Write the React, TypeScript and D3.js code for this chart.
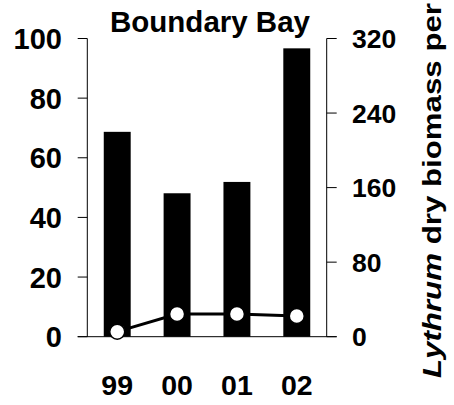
import React from "react";
import * as d3 from "d3";

const years = ["99", "00", "01", "02"];
const coverValues = [68.7, 48.1, 51.9, 96.7];
const biomassValues = [5.4, 24.4, 24.4, 22.2];
const leftTicks = [0, 20, 40, 60, 80, 100];
const rightTicks = [0, 80, 160, 240, 320];
const title = "Boundary Bay";

const W = 454;
const H = 405;
const FONT = "'Liberation Sans', Arial, Helvetica, sans-serif";

export default function App() {
  const left = 87.3;
  const right = 326.7;
  const top = 38.5;
  const bottom = 336.7;

  const x = d3.scaleBand<string>().domain(years).range([left, right]).paddingInner(0.55).paddingOuter(0.275);
  const yL = d3.scaleLinear().domain([0, 100]).range([bottom, top]);
  const yR = d3.scaleLinear().domain([0, 320]).range([bottom, top]);

  const line = d3
    .line<number>()
    .x((_, i) => (x(years[i]) as number) + x.bandwidth() / 2)
    .y((d) => yR(d));

  return (
    <svg
      width={W}
      height={H}
      style={{ position: "absolute", left: 0, top: 0, background: "#fff" }}
      fontFamily={FONT}
      fontWeight="bold"
    >
      <rect x={0} y={0} width={W} height={H} fill="#fff" />
      <text x={210} y={31.5} textAnchor="middle" fontSize={29.5} fill="#000">
        {title}
      </text>

      {coverValues.map((v, i) => (
        <rect
          key={"b" + i}
          x={x(years[i]) as number}
          y={yL(v)}
          width={x.bandwidth()}
          height={yL(0) - yL(v)}
          fill="#000"
        />
      ))}

      <line x1={left} x2={left} y1={top} y2={bottom} stroke="#000" strokeWidth={1} />
      <line x1={right} x2={right} y1={top} y2={bottom} stroke="#000" strokeWidth={1} />
      <line x1={left - 9.6} x2={right + 10} y1={bottom} y2={bottom} stroke="#000" strokeWidth={1} />

      {leftTicks.map((t) => (
        <g key={"lt" + t}>
          <line x1={left - 9.6} x2={left} y1={yL(t)} y2={yL(t)} stroke="#000" strokeWidth={1} />
          <text x={62} y={yL(t)} dy="0.36em" textAnchor="end" fontSize={29} fill="#000">
            {t}
          </text>
        </g>
      ))}

      {rightTicks.map((t) => (
        <g key={"rt" + t}>
          <line x1={right} x2={right + 10} y1={yR(t)} y2={yR(t)} stroke="#000" strokeWidth={1} />
          <text x={352} y={yR(t)} dy="0.36em" textAnchor="start" fontSize={26.5} fill="#000">
            {t}
          </text>
        </g>
      ))}

      {years.map((yr) => (
        <text
          key={"x" + yr}
          x={(x(yr) as number) + x.bandwidth() / 2}
          y={395}
          textAnchor="middle"
          fontSize={28.5}
          fill="#000"
        >
          {yr}
        </text>
      ))}

      <path d={line(biomassValues) || ""} fill="none" stroke="#000" strokeWidth={3} />
      {biomassValues.map((v, i) => (
        <circle
          key={"c" + i}
          cx={(x(years[i]) as number) + x.bandwidth() / 2}
          cy={yR(v)}
          r={7.5}
          fill="#fff"
          stroke="#000"
          strokeWidth={1.5}
        />
      ))}

      <text
        transform="translate(441,378) rotate(-90)"
        fontSize={26.5}
        fill="#000"
        textLength={375}
        lengthAdjust="spacingAndGlyphs"
      >
        <tspan fontStyle="italic">Lythrum</tspan>
        <tspan> dry biomass per</tspan>
      </text>
    </svg>
  );
}
